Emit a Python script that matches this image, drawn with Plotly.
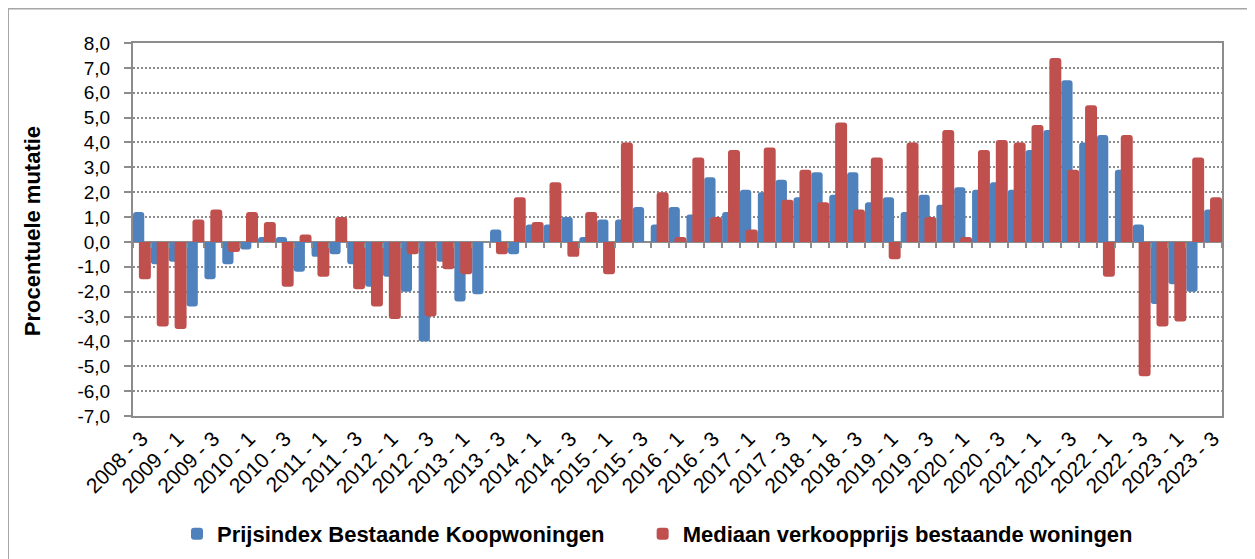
import plotly.graph_objects as go

quarters = [
    "2008 - 3", "2008 - 4",
    "2009 - 1", "2009 - 2", "2009 - 3", "2009 - 4",
    "2010 - 1", "2010 - 2", "2010 - 3", "2010 - 4",
    "2011 - 1", "2011 - 2", "2011 - 3", "2011 - 4",
    "2012 - 1", "2012 - 2", "2012 - 3", "2012 - 4",
    "2013 - 1", "2013 - 2", "2013 - 3", "2013 - 4",
    "2014 - 1", "2014 - 2", "2014 - 3", "2014 - 4",
    "2015 - 1", "2015 - 2", "2015 - 3", "2015 - 4",
    "2016 - 1", "2016 - 2", "2016 - 3", "2016 - 4",
    "2017 - 1", "2017 - 2", "2017 - 3", "2017 - 4",
    "2018 - 1", "2018 - 2", "2018 - 3", "2018 - 4",
    "2019 - 1", "2019 - 2", "2019 - 3", "2019 - 4",
    "2020 - 1", "2020 - 2", "2020 - 3", "2020 - 4",
    "2021 - 1", "2021 - 2", "2021 - 3", "2021 - 4",
    "2022 - 1", "2022 - 2", "2022 - 3", "2022 - 4",
    "2023 - 1", "2023 - 2", "2023 - 3",
]

prijsindex = [
    1.2, -0.9, -0.8, -2.6, -1.5, -0.9, -0.3, 0.2, 0.2, -1.2,
    -0.6, -0.5, -0.9, -1.8, -1.4, -2.0, -4.0, -0.8, -2.4, -2.1,
    0.5, -0.5, 0.7, 0.7, 1.0, 0.2, 0.9, 0.9, 1.4, 0.7,
    1.4, 1.1, 2.6, 1.2, 2.1, 2.0, 2.5, 1.8, 2.8, 1.9,
    2.8, 1.6, 1.8, 1.2, 1.9, 1.5, 2.2, 2.1, 2.4, 2.1,
    3.7, 4.5, 6.5, 4.0, 4.3, 2.9, 0.7, -2.5, -1.7, -2.0,
    1.3,
]

mediaan = [
    -1.5, -3.4, -3.5, 0.9, 1.3, -0.4, 1.2, 0.8, -1.8, 0.3,
    -1.4, 1.0, -1.9, -2.6, -3.1, -0.5, -3.0, -1.1, -1.3, 0.0,
    -0.5, 1.8, 0.8, 2.4, -0.6, 1.2, -1.3, 4.0, 0.0, 2.0,
    0.2, 3.4, 1.0, 3.7, 0.5, 3.8, 1.7, 2.9, 1.6, 4.8,
    1.3, 3.4, -0.7, 4.0, 1.0, 4.5, 0.2, 3.7, 4.1, 4.0,
    4.7, 7.4, 2.9, 5.5, -1.4, 4.3, -5.4, -3.4, -3.2, 3.4,
    1.8,
]

x_ticks = quarters[::2]
y_ticks = [8, 7, 6, 5, 4, 3, 2, 1, 0, -1, -2, -3, -4, -5, -6, -7]
y_ticktext = [("%.1f" % v).replace(".", ",") for v in y_ticks]

series_names = ["Prijsindex Bestaande Koopwoningen", "Mediaan verkoopprijs bestaande woningen"]
BLUE = "#4F81BD"
RED = "#C0504D"
GRAY = "#8C8C8C"
FONT = "Liberation Sans, Arial, sans-serif"

fig = go.Figure()
fig.add_trace(go.Bar(
    x=quarters, y=prijsindex, name=series_names[0],
    marker=dict(color=BLUE, cornerradius=3, line=dict(width=0)),
    width=0.63, offset=-0.5, xaxis="x", yaxis="y", legend="legend",
))
fig.add_trace(go.Bar(
    x=quarters, y=mediaan, name=series_names[1],
    marker=dict(color=RED, cornerradius=3, line=dict(width=0)),
    width=0.67, offset=-0.17, xaxis="x2", yaxis="y", legend="legend2",
))

legend_common = dict(
    orientation="h", xanchor="left", y=-0.316, yanchor="middle",
    font=dict(family=FONT, size=22, color="black", weight="bold"),
    bgcolor="rgba(0,0,0,0)",
)

fig.update_layout(
    width=1255, height=559,
    margin=dict(l=125, r=41, t=35, b=149),
    paper_bgcolor="white", plot_bgcolor="white",
    barmode="overlay",
    font=dict(family=FONT, color="black"),
    showlegend=True,
    legend=dict(x=0.0404, **legend_common),
    legend2=dict(x=0.468, **legend_common),
    xaxis=dict(
        type="category", categoryorder="array", categoryarray=quarters,
        range=[-0.5, len(quarters) - 0.5],
        tickmode="array", tickvals=x_ticks, ticktext=x_ticks,
        tickangle=-45, tickfont=dict(family=FONT, size=21, color="black"),
        ticks="", showgrid=False, zeroline=False, automargin=False,
        showline=True, linecolor=GRAY, linewidth=2, mirror=True,
    ),
    xaxis2=dict(
        type="category", categoryorder="array", categoryarray=quarters,
        overlaying="x", matches="x", anchor="free", position=7 / 15,
        tickmode="linear", tick0=0, dtick=1, tickson="boundaries",
        ticks="outside", ticklen=5, tickwidth=2, tickcolor=GRAY,
        showticklabels=False, showgrid=False, zeroline=False, showline=False,
    ),
    yaxis=dict(
        range=[-7, 8], tickmode="array", tickvals=y_ticks, ticktext=y_ticktext,
        tickfont=dict(family=FONT, size=19, color="black"),
        ticks="outside", ticklen=7, tickwidth=2, tickcolor=GRAY,
        ticklabelstandoff=10, automargin=False,
        showgrid=True, gridcolor=GRAY, gridwidth=2, griddash="2px,2px",
        zeroline=True, zerolinecolor=GRAY, zerolinewidth=2,
        showline=True, linecolor=GRAY, linewidth=2, mirror=True,
    ),
    annotations=[dict(
        text="Procentuele mutatie", textangle=-90,
        xref="paper", yref="paper", x=-0.092, y=0.495,
        xanchor="center", yanchor="middle", showarrow=False,
        font=dict(family=FONT, size=22, color="black", weight="bold"),
    )],
    shapes=[dict(
        type="rect", xref="paper", yref="paper",
        x0=-0.1148, x1=1.0275, y0=-0.42, y1=1.0926,
        line=dict(color="#A6A6A6", width=2), fillcolor="rgba(0,0,0,0)", layer="below",
    )],
)

fig.write_html("out.html")
